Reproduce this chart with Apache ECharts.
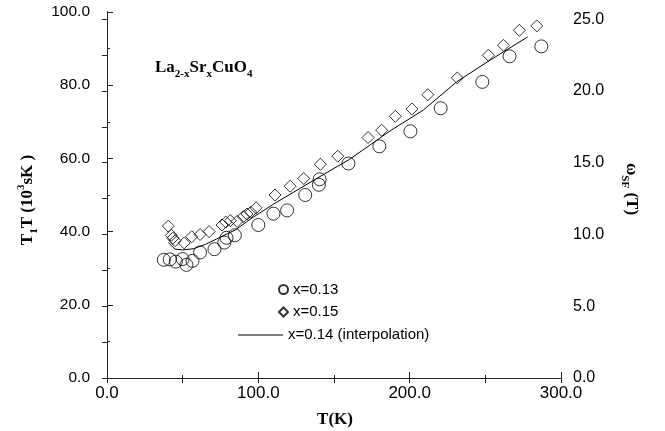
<!DOCTYPE html>
<html><head><meta charset="utf-8">
<script src="https://cdn.jsdelivr.net/npm/echarts@6/dist/echarts.min.js"></script>
<style>html,body{margin:0;padding:0;background:#fff}#c{width:665px;height:431px}</style>
</head><body><div id="c"></div>
<script>
// x = 0.13 (circles)
const tempX013 = [37.5,41.5,45.5,50,52.5,56.5,61.5,71,77.5,79,84.5,100,110,119,131,140,140.5,159.5,180,200.5,220.5,248,266,287];
const t1tX013  = [32.3,32.4,31.8,32.5,30.9,32.0,34.3,35.2,37.0,38.3,39.0,41.8,44.9,45.8,50.0,52.8,54.3,58.6,63.3,67.4,73.7,80.9,87.9,90.6];
// x = 0.15 (diamonds)
const tempX015 = [40.5,42.5,43.5,45,51,56,61.5,67.5,76,78.5,81.5,86,90,92.5,95,98.5,111,121,130,141,152.5,172.5,181.5,190.5,201.5,212,231.5,252,262,272.5,284];
const t1tX015  = [41.5,39.0,38.2,37.5,36.9,38.6,39.2,40.0,41.8,42.6,43.0,42.8,44.1,44.8,45.3,46.5,50.0,52.4,54.5,58.4,60.6,65.7,67.7,71.5,73.5,77.4,82.0,88.2,90.9,95.0,96.2];
// x = 0.14 (interpolation line)
const tempX014 = [40.5,45,50,57,65,72.5,85,95,110,116.5,138.5,160.5,187,209,231,253,278];
const t1tX014  = [37.0,35.2,35.0,35.3,36.5,38.0,40.5,43.5,47.5,49.1,54.5,59.8,67.5,73.2,80.9,86.8,93.2];
// axes
const xRange = [0, 300];
const leftRange = [0, 100];
const rightRange = [0, 25.5];
const seriesNames = ['x=0.13', 'x=0.15', 'x=0.14 (interpolation)'];

const zip = (a, b) => a.map((v, i) => [v, b[i]]);
const sans = 'Liberation Sans';
const serif = 'Liberation Serif';
const fmt = v => v.toFixed(1);

const chart = echarts.init(document.getElementById('c'), null, {renderer: 'canvas'});
const titleRich = {
  m: {fontFamily: serif, fontWeight: 'bold', fontSize: 17, lineHeight: 24, color: '#000'},
  sub: {fontFamily: serif, fontWeight: 'bold', fontSize: 11, lineHeight: 11, verticalAlign: 'bottom', color: '#000'},
  sup: {fontFamily: serif, fontWeight: 'bold', fontSize: 11, lineHeight: 11, verticalAlign: 'top', color: '#000'}
};
const option = {
  animation: false,
  backgroundColor: '#fff',
  grid: {left: 107, right: 104, top: 12, bottom: 53},
  xAxis: [{
    type: 'value', position: 'bottom', min: xRange[0], max: xRange[1], interval: 100,
    axisLine: {show: true, lineStyle: {color: '#222', width: 1}},
    axisTick: {show: true, inside: true, length: 6, lineStyle: {color: '#222'}},
    minorTick: {show: true, splitNumber: 2, length: 3, lineStyle: {color: '#222'}},
    splitLine: {show: false}, minorSplitLine: {show: false},
    axisLabel: {formatter: fmt, fontFamily: sans, fontSize: 17, color: '#000', margin: 7}
  }, {
    type: 'value', position: 'top', min: xRange[0], max: xRange[1], interval: 50,
    axisLine: {show: true, lineStyle: {color: '#222', width: 1}},
    axisTick: {show: true, inside: true, length: 5, lineStyle: {color: '#222'}},
    splitLine: {show: false}, axisLabel: {show: false}
  }],
  yAxis: [{
    type: 'value', position: 'left', min: leftRange[0], max: leftRange[1], interval: 20,
    axisLine: {show: true, lineStyle: {color: '#222', width: 1}},
    axisTick: {show: true, inside: true, length: 6, lineStyle: {color: '#222'}},
    minorTick: {show: true, splitNumber: 2, length: 3, lineStyle: {color: '#222'}},
    splitLine: {show: false}, minorSplitLine: {show: false},
    axisLabel: {formatter: fmt, fontFamily: sans, fontSize: 15.5, color: '#000', margin: 17}
  }, {
    type: 'value', position: 'right', min: rightRange[0], max: rightRange[1], interval: 2.5,
    axisLine: {show: true, lineStyle: {color: '#222', width: 1}},
    axisTick: {show: true, inside: true, length: 5, lineStyle: {color: '#222'}},
    splitLine: {show: false},
    axisLabel: {
      formatter: v => (Math.abs(v % 5) < 1e-6 ? v.toFixed(1) : ''),
      fontFamily: sans, fontSize: 16, color: '#000', margin: 12,
      showMaxLabel: false
    }
  }],
  legend: [{
    data: [seriesNames[0], seriesNames[1]], orient: 'vertical', left: 278, top: 282,
    padding: 0, itemWidth: 9, itemHeight: 9, itemGap: 7.5,
    textStyle: {fontFamily: sans, fontSize: 15, color: '#000'}
  }, {
    data: [{name: seriesNames[2], icon: 'rect'}], orient: 'vertical', left: 238, top: 327.5,
    padding: 0, itemWidth: 45, itemHeight: 1,
    itemStyle: {color: '#000', borderWidth: 0},
    textStyle: {fontFamily: sans, fontSize: 15, color: '#000'}
  }],
  series: [{
    name: seriesNames[0], type: 'scatter', xAxisIndex: 0, yAxisIndex: 0,
    symbol: 'circle', symbolSize: 13,
    itemStyle: {color: 'rgba(255,255,255,0)', borderColor: '#000', borderWidth: 1},
    data: zip(tempX013, t1tX013)
  }, {
    name: seriesNames[1], type: 'scatter', xAxisIndex: 0, yAxisIndex: 0,
    symbol: 'diamond', symbolSize: 12,
    itemStyle: {color: 'rgba(255,255,255,0)', borderColor: '#000', borderWidth: 1},
    data: zip(tempX015, t1tX015)
  }, {
    name: seriesNames[2], type: 'line', xAxisIndex: 0, yAxisIndex: 0,
    symbol: 'none', showSymbol: false,
    lineStyle: {color: '#000', width: 1},
    itemStyle: {color: '#000'},
    data: zip(tempX014, t1tX014)
  }],
  graphic: [{
    type: 'text', x: 155, y: 68,
    style: {
      text: '{m|La}{sub|2-x}{m|Sr}{sub|x}{m|CuO}{sub|4}',
      rich: titleRich, align: 'left', verticalAlign: 'middle'
    }
  }, {
    type: 'text', x: 28, y: 200, rotation: Math.PI / 2,
    style: {
      text: '{m|T}{sub|1}{m|T (10}{sup|3}{m|sK )}',
      rich: titleRich, align: 'center', verticalAlign: 'middle'
    }
  }, {
    type: 'text', x: 631, y: 189, rotation: -Math.PI / 2,
    style: {
      text: '{m|ω}{sub|SF}{m| (T)}',
      rich: titleRich, align: 'center', verticalAlign: 'middle'
    }
  }, {
    type: 'text', x: 335, y: 420,
    style: {
      text: 'T(K)', fontFamily: serif, fontWeight: 'bold', fontSize: 17, fill: '#000',
      align: 'center', verticalAlign: 'middle'
    }
  }]
};
chart.setOption(option);
</script>
</body></html>
